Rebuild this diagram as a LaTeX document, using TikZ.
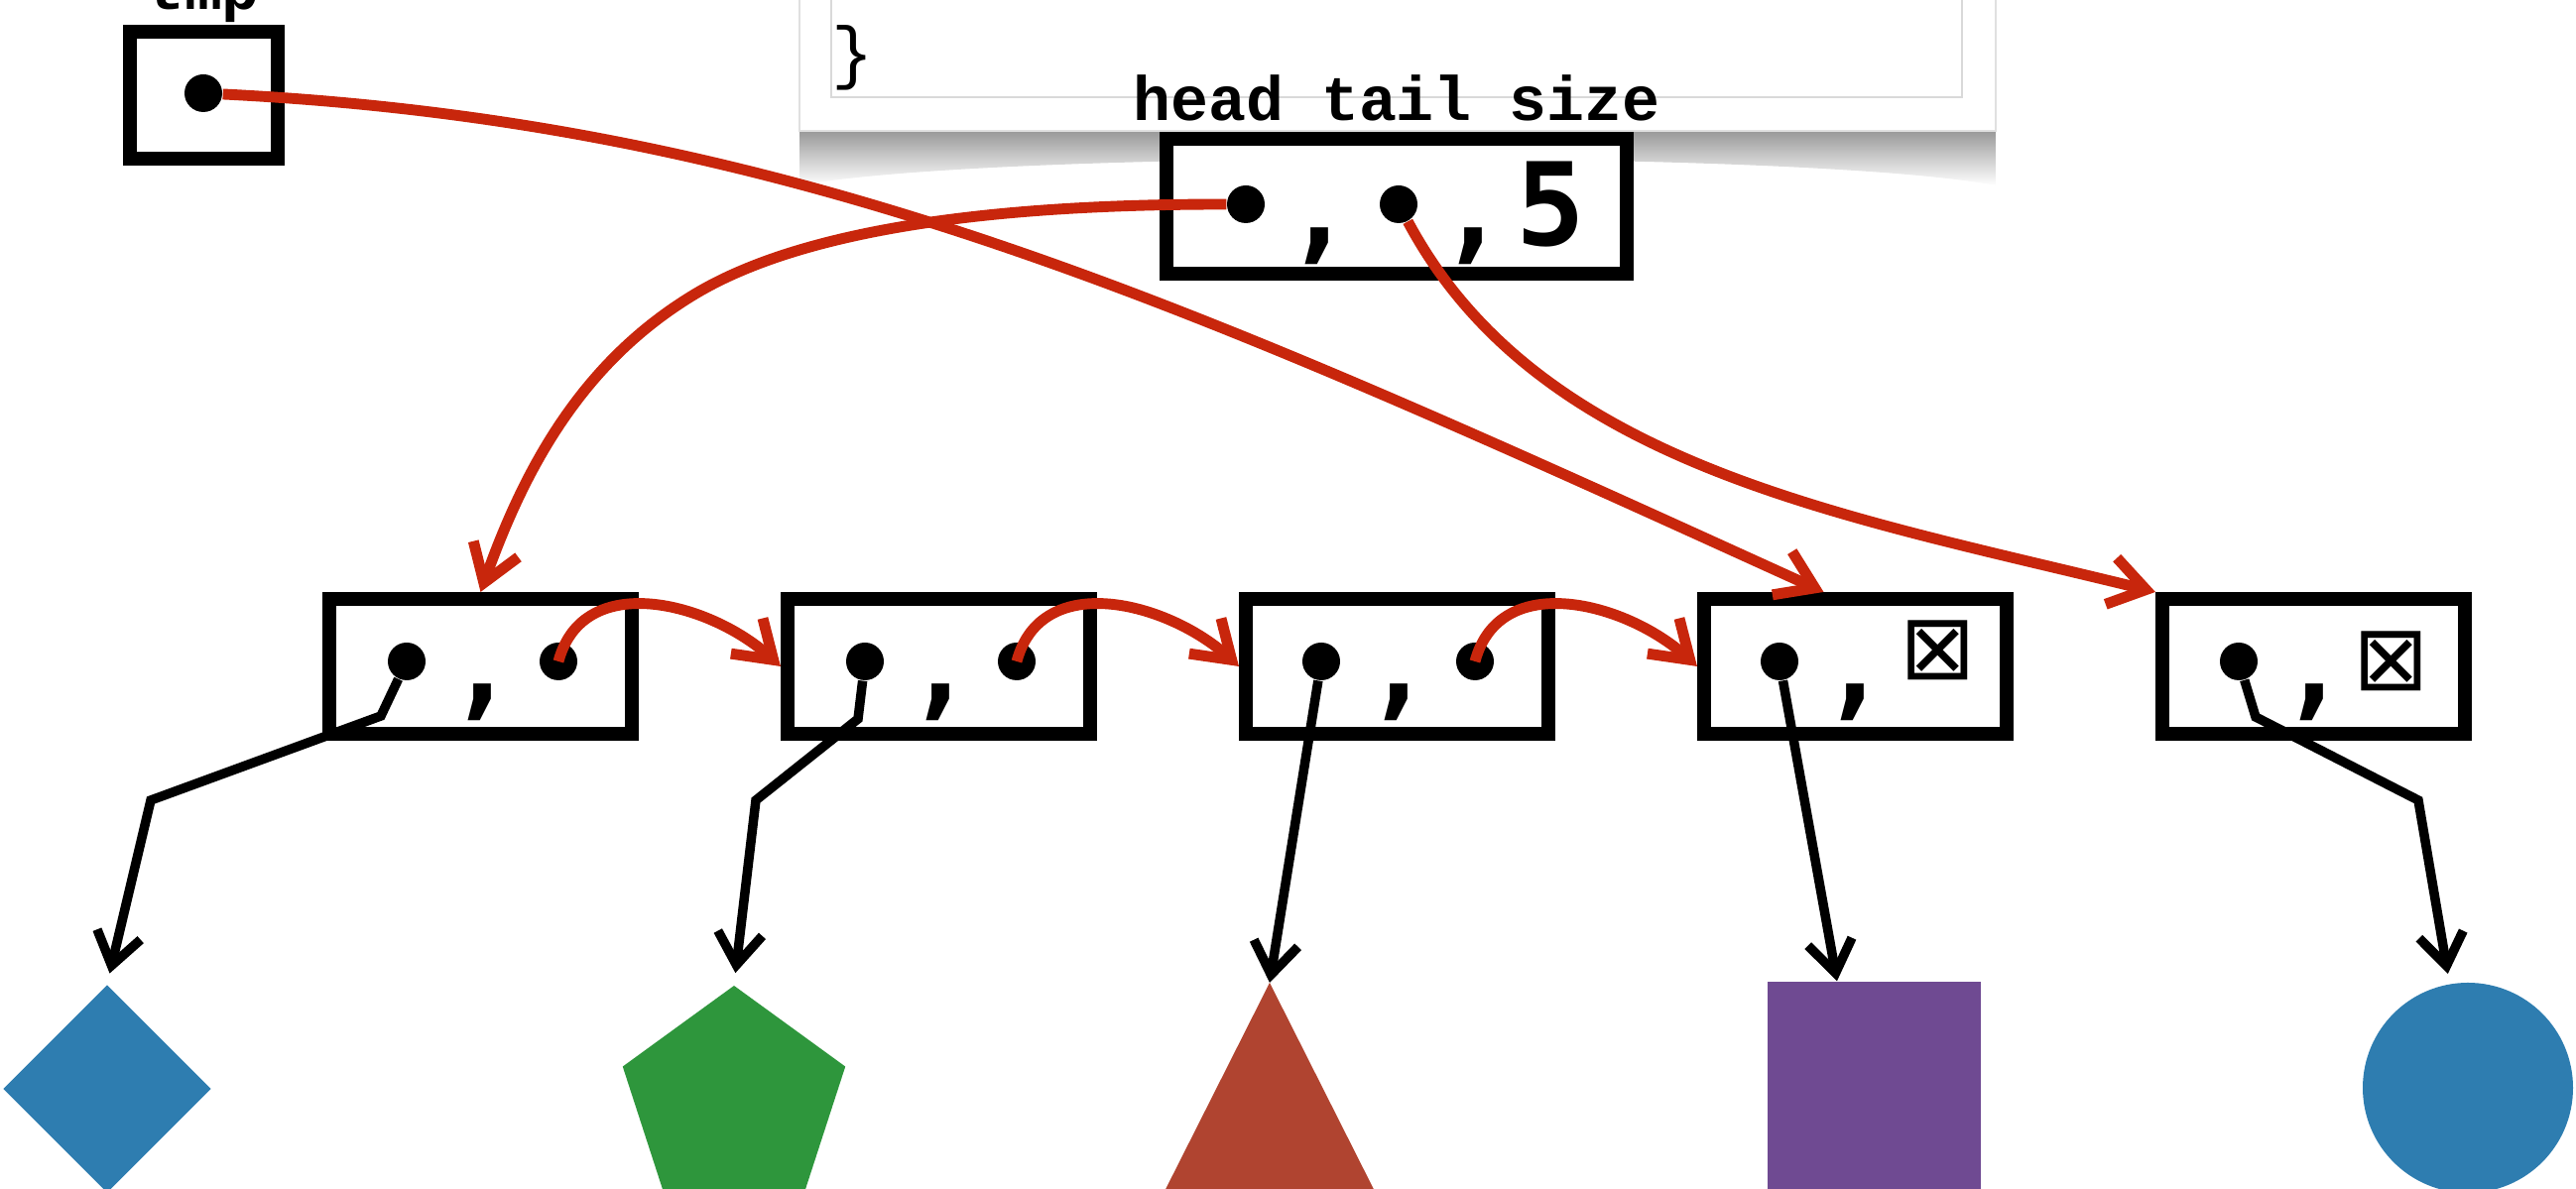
\documentclass[tikz,border=0pt]{standalone}
\usepackage{fontspec}
\usepackage{tikz}
\usetikzlibrary{arrows.meta, shapes.geometric}
\usepackage{xcolor}
\newfontfamily\codefont{Liberation Mono}
\newfontfamily\valfont{DejaVu Sans Mono}
\newfontfamily\dvsfont{DejaVu Sans}
\definecolor{arrred}{RGB}{200,38,12}
\definecolor{shpblue}{RGB}{46,125,176}
\definecolor{shpgreen}{RGB}{46,150,60}
\definecolor{shpred}{RGB}{176,68,48}
\definecolor{shppurple}{RGB}{111,74,146}

\begin{document}
\begin{tikzpicture}[
    box/.style={draw, line width=4pt, fill=white, inner sep=0pt, minimum width=3.05cm, minimum height=1.36cm},
    dot/.style={circle, fill=black, inner sep=0pt, minimum size=0.38cm},
    txt/.style={inner sep=0pt, font=\valfont\bfseries\fontsize{33}{33}\selectfont},
    lbl/.style={inner sep=0pt, font=\codefont\bfseries\fontsize{18}{18}\selectfont},
    nul/.style={inner sep=0pt, font=\dvsfont\fontsize{26}{26}\selectfont},
    ptr/.style={line width=2.7pt, -{Straight Barb[length=3.2mm,width=4.5mm]}},
    nxt/.style={draw=arrred, line width=3.1pt, -{Straight Barb[length=3.6mm,width=4.8mm]}}
  ]
    \useasboundingbox (0,0) rectangle (25.97,11.99);
    \clip (0,0) rectangle (25.97,11.99);

    % Code window at the top
    \shade[top color=black!40, bottom color=white] (8.06,10.67) -- (20.12,10.67) -- (20.12,10.12)
        .. controls (18.2,10.48) and (10.0,10.48) .. (8.06,10.12) -- cycle;
    \draw[draw=black!12, fill=white] (8.06,10.67) rectangle (20.12,12.2);
    \draw[draw=black!15] (8.38,11.01) rectangle (19.78,12.2);
    \node[inner sep=0pt, font=\codefont\fontsize{20}{20}\selectfont] (brace) at (8.60,11.41) {\}};

    % The tmp pointer
    \node[lbl, anchor=base] (tmplbl) at (2.05,11.89) {tmp};
    \node[box, minimum width=1.49cm, minimum height=1.28cm] (tmp) at (2.055,11.03) {};
    \node[dot] (tmpd) at (2.05,11.05) {};

    % The list header
    \node[lbl, anchor=base] (hdrlbl) at (14.08,10.77) {head tail size};
    \node[box, minimum width=4.64cm] (hdr) at (14.08,9.91) {};
    \node[dot] (hd) at (12.56,9.93) {};
    \node[txt] (hc1) at (13.30,9.51) {,};
    \node[dot] (tl) at (14.10,9.93) {};
    \node[txt] (hc2) at (14.85,9.51) {,};
    \node[txt] (sz) at (15.63,9.93) {5};

    % The cells
    \node[box] (c1) at (4.845,5.27) {};
    \node[box] (c2) at (9.465,5.27) {};
    \node[box] (c3) at (14.085,5.27) {};
    \node[box] (c4) at (18.705,5.27) {};
    \node[box] (c5) at (23.325,5.27) {};

    \node[dot] (c1v) at (4.10,5.32) {};
    \node[dot] (c2v) at (8.72,5.32) {};
    \node[dot] (c3v) at (13.32,5.32) {};
    \node[dot] (c4v) at (17.94,5.32) {};
    \node[dot] (c5v) at (22.57,5.32) {};

    \node[txt] (c1c) at (4.86,4.91) {,};
    \node[txt] (c2c) at (9.48,4.91) {,};
    \node[txt] (c3c) at (14.10,4.91) {,};
    \node[txt] (c4c) at (18.70,4.91) {,};
    \node[txt] (c5c) at (23.33,4.91) {,};

    \node[dot] (c1n) at (5.63,5.32) {};
    \node[dot] (c2n) at (10.25,5.32) {};
    \node[dot] (c3n) at (14.87,5.32) {};
    \node[nul, fill=white] (c4n) at (19.535,5.43) {⊠};
    \node[nul] (c5n) at (24.11,5.32) {⊠};

    % The shapes
    \node[diamond, fill=shpblue, inner sep=0pt, minimum width=2.1cm, minimum height=2.1cm] (s1) at (1.08,1.01) {};
    \node[regular polygon, regular polygon sides=5, fill=shpgreen, inner sep=0pt, minimum size=2.36cm] (s2) at (7.40,0.87) {};
    \coordinate (s3) at (12.80,2.08);
    \fill[shpred] (s3) -- (11.50,-0.50) -- (14.10,-0.50) -- cycle;
    \node[rectangle, fill=shppurple, inner sep=0pt, minimum size=2.15cm] (s4) at (18.895,1.015) {};
    \node[circle, fill=shpblue, inner sep=0pt, minimum size=2.12cm] (s5) at (24.88,1.02) {};

    % Values
    \coordinate (k1a) at (3.84,4.77);
    \coordinate (k1b) at (1.52,3.92);
    \coordinate (k2a) at (8.65,4.74);
    \coordinate (k2b) at (7.62,3.92);
    \coordinate (k5a) at (22.74,4.76);
    \coordinate (k5b) at (24.38,3.92);
    \draw[ptr, shorten >=1.1mm] (c1v) -- (k1a) -- (k1b) -- (s1.north);
    \draw[ptr, shorten >=1.2mm] (c2v) -- (k2a) -- (k2b) -- (s2.north);
    \draw[ptr] (c3v) -- (s3);
    \draw[ptr] (c4v) -- ([xshift=-3.75mm]s4.north);
    \draw[ptr, shorten >=1mm] (c5v) -- (k5a) -- (k5b) -- (s5.100);

    % Links
    \draw[nxt] (c1n.center) to[out=75, in=138, looseness=1.1] (c2.west);
    \draw[nxt] (c2n.center) to[out=75, in=138, looseness=1.1] (c3.west);
    \draw[nxt] (c3n.center) to[out=75, in=138, looseness=1.1] (c4.west);

    \coordinate (hmid) at (6.95,8.99);
    \draw[nxt] (hd) .. controls (10.56,9.93) and (8.22,9.79) .. (hmid)
        .. controls (5.84,8.30) and (5.28,7.24) .. (c1.north);
    \draw[nxt] (tl) .. controls (15.51,7.29) and (18.56,6.80) .. (c5.north west);
    \draw[nxt] (tmpd) .. controls (8.05,10.75) and (12.03,8.91) .. ([xshift=-3.2mm]c4.north);
\end{tikzpicture}
\end{document}
